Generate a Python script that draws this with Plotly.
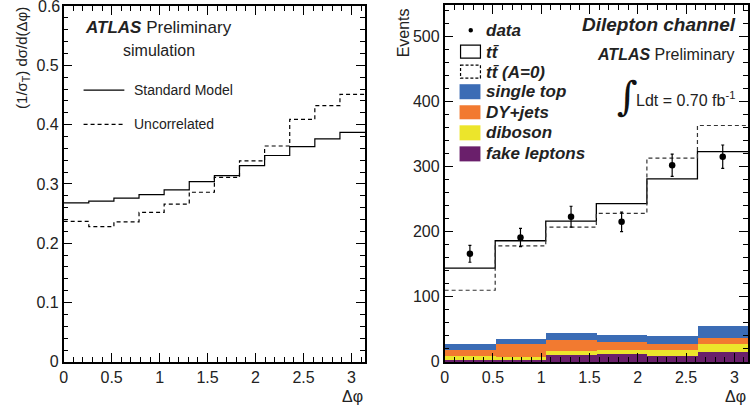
import numpy as np
import plotly.graph_objects as go

# ---------------- data ----------------
left_nbins = 12
sm_vals = [0.268, 0.271, 0.276, 0.282, 0.290, 0.304, 0.314, 0.331, 0.348, 0.363, 0.376, 0.387]
uncorr_vals = [0.237, 0.228, 0.236, 0.252, 0.266, 0.286, 0.311, 0.339, 0.364, 0.409, 0.432, 0.451]

right_nbins = 6
tt_vals = [144, 186, 216, 243, 281, 323]
tt_a0_vals = [110, 178, 207, 228, 313, 363]
data_vals = [166, 191, 223, 215, 302, 315]
data_err = [13, 14, 16, 15, 17, 18]
fake_vals = [2.5, 2.5, 10.3, 12.8, 9.2, 14.9]
diboson_vals = [6.2, 5.2, 7.1, 6.2, 9.8, 13.3]
dy_vals = [9.8, 19.3, 16.6, 11.8, 7.7, 9.2]
singletop_vals = [8.2, 8.0, 10.6, 11.2, 13.3, 17.0]

xticks = [0, 0.5, 1, 1.5, 2, 2.5, 3]
xticklabels = ["0", "0.5", "1", "1.5", "2", "2.5", "3"]
left_yticks = [0, 0.1, 0.2, 0.3, 0.4, 0.5]
left_yticklabels = ["0", "0.1", "0.2", "0.3", "0.4", "0.5"]
left_ytop_label = "0.6"

# ---------------- styling ----------------
FONT = "Liberation Sans, Arial, Helvetica, sans-serif"
C_BLUE = "#3b6cb5"
C_ORANGE = "#f27a30"
C_YELLOW = "#ece52b"
C_PURPLE = "#6a1f6b"
W, H = 750, 408
FIG_H = 418


def px(x):
    return x / W


def py(y):
    return 1 - y / H


left_edges = np.linspace(0, np.pi, left_nbins + 1)
right_edges = np.linspace(0, np.pi, right_nbins + 1)
right_centers = 0.5 * (right_edges[:-1] + right_edges[1:])
right_width = right_edges[1] - right_edges[0]


def step(vals):
    return list(vals) + [vals[-1]]


fig = go.Figure()

fig.add_trace(go.Scatter(x=left_edges, y=step(sm_vals), mode="lines", line_shape="hv",
                         line=dict(color="black", width=1.2), xaxis="x", yaxis="y",
                         showlegend=False))
fig.add_trace(go.Scatter(x=left_edges, y=step(uncorr_vals), mode="lines", line_shape="hv",
                         line=dict(color="black", width=1.2, dash="4px,3px"), xaxis="x", yaxis="y",
                         showlegend=False))

for vals, col in [(fake_vals, C_PURPLE), (diboson_vals, C_YELLOW),
                  (dy_vals, C_ORANGE), (singletop_vals, C_BLUE)]:
    fig.add_trace(go.Bar(x=right_centers, y=vals, width=right_width,
                         marker=dict(color=col, line=dict(width=0)),
                         xaxis="x2", yaxis="y2", showlegend=False))

fig.add_trace(go.Scatter(x=right_edges, y=step(tt_vals), mode="lines", line_shape="hv",
                         line=dict(color="black", width=1.3), xaxis="x2", yaxis="y2",
                         showlegend=False))
fig.add_trace(go.Scatter(x=right_edges, y=step(tt_a0_vals), mode="lines", line_shape="hv",
                         line=dict(color="#333333", width=1.2, dash="4px,3px"), xaxis="x2", yaxis="y2",
                         showlegend=False))
fig.add_trace(go.Scatter(x=right_centers, y=data_vals, mode="markers",
                         marker=dict(color="black", size=6.5),
                         error_y=dict(type="data", array=data_err, color="black", thickness=1.2, width=1.5),
                         xaxis="x2", yaxis="y2", showlegend=False))

axis_common = dict(showline=True, linecolor="black", linewidth=1.5, mirror="allticks",
                   ticks="inside", ticklen=9, tickwidth=1, tickcolor="black",
                   showgrid=False, zeroline=False,
                   tickfont=dict(family=FONT, size=16, color="#222222"))

fig.update_layout(
    width=W, height=FIG_H,
    autosize=False,
    margin=dict(l=0, r=0, t=0, b=0, pad=0),
    paper_bgcolor="white", plot_bgcolor="white",
    barmode="stack", bargap=0,
    font=dict(family=FONT, color="#222222"),
    xaxis=dict(domain=[px(60), px(363)], range=[0, np.pi], tickvals=xticks, ticktext=xticklabels,
               minor=dict(ticks="inside", dtick=0.1, ticklen=5, tickcolor="black"),
               anchor="y", **axis_common),
    yaxis=dict(domain=[py(361), py(6)], range=[0, 0.6], tickvals=left_yticks, ticktext=left_yticklabels,
               minor=dict(ticks="inside", dtick=0.02, ticklen=5, tickcolor="black"),
               anchor="x", **axis_common),
    xaxis2=dict(domain=[px(443), px(748)], range=[0, np.pi], tickvals=xticks, ticktext=xticklabels,
                minor=dict(ticks="inside", dtick=0.1, ticklen=5, tickcolor="black"),
                anchor="y2", **axis_common),
    yaxis2=dict(domain=[py(361), py(5)], range=[0, 548], dtick=100,
                minor=dict(ticks="inside", dtick=20, ticklen=5, tickcolor="black"),
                anchor="x2", **axis_common),
)

ann = []


def text(x, y, s, size=16, xanchor="left", yanchor="middle", angle=0, color="#222222", family=FONT):
    ann.append(dict(x=px(x), y=py(y), xref="paper", yref="paper", text=s, showarrow=False,
                    xanchor=xanchor, yanchor=yanchor, textangle=angle,
                    font=dict(family=family, size=size, color=color)))


# top tick label of the left y axis (Plotly drops it at the figure edge)
ann.append(dict(x=px(58), y=0.6, xref="paper", yref="y", text=left_ytop_label, showarrow=False,
                xanchor="right", yanchor="middle", font=dict(family=FONT, size=16, color="#222222")))

text(18, 5, "(1/σ<sub>T</sub>) dσ/d(Δφ)", size=15, xanchor="center", yanchor="top", angle=-90)
text(363, 396, "Δφ", size=16, xanchor="right")
text(79, 27, "<b><i>ATLAS</i></b> Preliminary", size=17)
text(156, 50, "simulation", size=16, xanchor="center")
text(129, 90, "Standard Model", size=14)
text(129, 124, "Uncorrelated", size=14)

text(402, 6, "Events", size=16, xanchor="center", yanchor="top", angle=-90)
text(748, 396, "Δφ", size=16, xanchor="right")
text(738, 24, "<b><i>Dilepton channel</i></b>", size=19, xanchor="right")
text(737, 54, "<b><i>ATLAS</i></b> Preliminary", size=16, xanchor="right")
text(737, 99, "Ldt = 0.70 fb<sup>-1</sup>", size=16, xanchor="right")
text(627, 96, "∫", size=40, xanchor="center", color="#111111", family="DejaVu Serif, serif")

leg_items = [(30, "data"), (52, "tt\u0304"), (72, "tt\u0304 (A=0)"), (91, "single top"),
             (112, "DY+jets"), (132, "diboson"), (153, "fake leptons")]
for y, s in leg_items:
    text(483, y, "<b><i>" + s + "</i></b>", size=17)

fig.update_layout(annotations=ann)

shapes = []
shapes.append(dict(type="line", xref="paper", yref="paper", x0=px(80), x1=px(121), y0=py(90), y1=py(90),
                   line=dict(color="black", width=1.2)))
shapes.append(dict(type="line", xref="paper", yref="paper", x0=px(80), x1=px(121), y0=py(124), y1=py(124),
                   line=dict(color="black", width=1.2, dash="4px,3px")))
shapes.append(dict(type="circle", xref="paper", yref="paper", x0=px(467), x1=px(471.5), y0=py(28), y1=py(32.5),
                   fillcolor="black", line=dict(width=0)))
shapes.append(dict(type="rect", xref="paper", yref="paper", x0=px(459), x1=px(479), y0=py(45), y1=py(58),
                   line=dict(color="black", width=1.2)))
shapes.append(dict(type="rect", xref="paper", yref="paper", x0=px(459), x1=px(479), y0=py(65), y1=py(78),
                   line=dict(color="black", width=1.2, dash="3px,2px")))
for (y0, y1), col in [((84, 99), C_BLUE), ((105, 119), C_ORANGE), ((125, 140), C_YELLOW), ((146, 161), C_PURPLE)]:
    shapes.append(dict(type="rect", xref="paper", yref="paper", x0=px(458), x1=px(479), y0=py(y0), y1=py(y1),
                       fillcolor=col, line=dict(width=0)))
fig.update_layout(shapes=shapes)

post = (
    "var de=document.documentElement, b=document.body;"
    "de.style.margin='0';de.style.padding='0';de.style.overflow='hidden';"
    "b.style.margin='0';b.style.padding='0';b.style.overflow='hidden';"
)
fig.write_html("out.html", config={"displayModeBar": False, "responsive": False}, post_script=post)
